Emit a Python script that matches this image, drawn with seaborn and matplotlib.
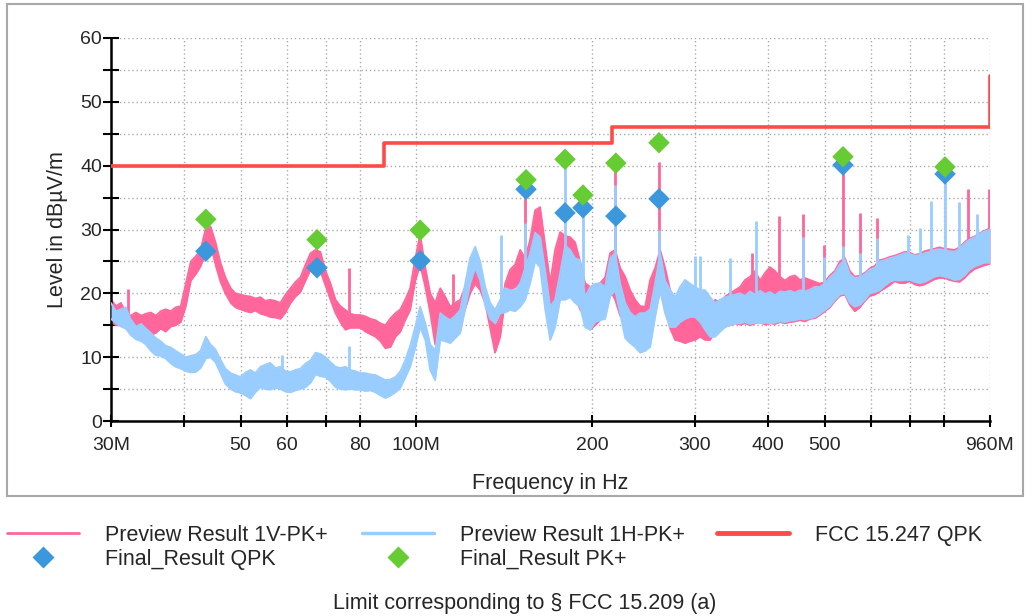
import numpy as np
import matplotlib
matplotlib.use("Agg")
import matplotlib.pyplot as plt
import seaborn as sns
from matplotlib.lines import Line2D
from matplotlib.patches import Rectangle
from matplotlib.ticker import FixedLocator, FixedFormatter, MultipleLocator, NullLocator

# ---------------- data (MHz / dBuV/m) ----------------
freq = [30.0, 30.6, 31.2, 31.8, 32.4, 33.1, 33.8, 34.4, 35.1, 35.8, 36.5, 37.2, 38.0, 38.7, 39.5, 40.3, 41.1,
        41.9, 42.7, 43.6, 44.4, 45.3, 46.2, 47.1, 48.1, 49.0, 50.0, 51.0, 52.0, 53.0, 54.1, 55.1, 56.2, 57.4,
        58.5, 59.7, 60.9, 62.1, 63.3, 64.6, 65.9, 67.2, 68.5, 69.9, 71.3, 72.7, 74.1, 75.6, 77.1, 78.6, 80.2,
        81.8, 83.4, 85.1, 86.8, 88.5, 90.3, 92.1, 93.9, 95.7, 97.6, 99.6, 101.5, 103.6, 105.6, 107.7, 109.9,
        112.0, 114.3, 116.6, 118.9, 121.2, 123.6, 126.1, 128.6, 131.2, 133.8, 136.4, 139.2, 141.9, 144.7,
        147.6, 150.6, 153.6, 156.6, 159.7, 162.9, 166.2, 169.5, 172.8, 176.3, 179.8, 183.4, 187.0, 190.7,
        194.5, 198.4, 202.4, 206.4, 210.5, 214.7, 219.0, 223.3, 227.8, 232.3, 236.9, 241.6, 246.5, 251.4,
        256.4, 261.5, 266.6, 272.0, 277.4, 282.9, 288.5, 294.3, 300.1, 306.1, 312.2, 318.4, 324.7, 331.2,
        337.8, 344.5, 351.3, 358.3, 365.4, 372.7, 380.1, 387.7, 395.4, 403.2, 411.2, 419.4, 427.7, 436.3,
        444.9, 453.8, 462.8, 472.0, 481.4, 490.9, 500.7, 510.6, 520.8, 531.1, 541.7, 552.4, 563.4, 574.6,
        586.0, 597.6, 609.5, 621.6, 633.9, 646.5, 659.3, 672.4, 685.8, 699.4, 713.2, 727.4, 741.8, 756.6,
        771.6, 786.9, 802.5, 818.5, 834.7, 851.2, 868.1, 885.3, 902.9, 920.8, 939.0, 960.0]

# Preview Result 1V-PK+ (lower / upper edge of the noisy trace)
v_lo = [15.5, 15.0, 15.0, 14.5, 14.2, 14.0, 14.5, 13.8, 13.5, 13.8,
        14.5, 14.0, 14.8, 15.0, 15.5, 18.0, 22.0, 23.0, 24.2, 26.5,
        27.8, 24.5, 21.8, 20.0, 18.5, 17.8, 17.5, 17.2, 17.0, 17.3,
        16.8, 16.6, 16.3, 16.2, 16.0, 17.0, 18.5, 19.5, 20.2, 22.0,
        23.7, 24.0, 23.5, 21.2, 19.0, 16.9, 15.5, 14.3, 14.6, 14.6,
        14.6, 14.0, 13.6, 13.2, 12.5, 11.4, 11.6, 13.2, 14.0, 15.8,
        17.4, 22.0, 24.5, 21.0, 17.0, 12.0, 15.8, 14.7, 14.7, 15.0,
        15.8, 17.5, 20.0, 21.5, 20.5, 18.5, 14.5, 10.7, 13.2, 19.0,
        20.5, 21.0, 21.6, 22.5, 23.2, 28.0, 29.4, 21.0, 14.7, 19.0,
        22.1, 21.5, 20.5, 19.5, 17.5, 16.3, 14.3, 15.0, 15.8, 16.5,
        20.5, 19.0, 16.5, 15.3, 13.5, 12.7, 12.7, 12.7, 14.0, 17.0,
        20.5, 17.5, 14.5, 12.7, 12.5, 12.2, 12.5, 12.7, 13.2, 12.7,
        12.7, 14.0, 14.5, 14.8, 15.0, 15.3, 15.1, 15.3, 15.0, 15.3,
        15.5, 15.1, 15.3, 15.2, 15.5, 15.3, 15.5, 15.6, 15.8, 15.6,
        16.0, 16.1, 16.6, 17.2, 17.8, 18.8, 19.6, 19.8, 18.2, 17.2,
        17.8, 18.8, 19.6, 19.8, 20.3, 20.8, 21.3, 21.9, 21.6, 21.6,
        21.9, 21.4, 21.2, 21.4, 21.8, 22.2, 22.4, 22.4, 22.1, 21.9,
        21.8, 22.4, 23.2, 23.8, 24.1, 24.4, 24.6]
v_hi = [19.0, 18.0, 18.5, 17.0, 16.5, 17.0, 16.5, 16.8, 17.0, 16.5,
        17.2, 17.5, 17.2, 17.8, 18.0, 21.5, 25.0, 25.8, 26.8, 30.2,
        30.5, 28.0, 24.8, 22.5, 20.8, 20.0, 19.8, 19.6, 19.5, 19.2,
        19.4, 18.8, 19.0, 18.8, 18.5, 19.8, 20.8, 21.8, 22.5, 24.5,
        26.3, 26.8, 26.5, 23.5, 21.5, 19.0, 18.0, 17.4, 16.8, 16.6,
        16.6, 16.4, 16.0, 15.8, 15.3, 15.0, 16.1, 16.9, 17.5, 19.0,
        20.8, 25.5, 29.2, 24.0, 20.0, 18.5, 20.8, 19.5, 17.9, 18.5,
        19.0, 21.0, 22.6, 23.5, 22.5, 20.5, 17.4, 14.7, 16.3, 21.5,
        23.7, 24.5, 26.8, 25.5, 28.4, 33.0, 33.5, 27.5, 21.6, 26.8,
        29.6, 29.0, 28.8, 28.0, 25.0, 21.6, 21.0, 21.2, 21.6, 22.5,
        26.3, 26.8, 24.0, 22.6, 20.5, 19.0, 18.0, 17.9, 22.1, 24.0,
        26.8, 24.0, 20.5, 19.0, 18.5, 17.9, 17.5, 17.0, 16.0, 14.7,
        15.0, 19.0, 18.5, 19.5, 20.0, 20.5, 21.0, 22.1, 22.6, 23.5,
        22.0, 23.2, 24.1, 23.5, 22.6, 22.0, 22.6, 22.8, 22.1, 22.4,
        22.1, 21.8, 21.5, 21.8, 22.8, 23.5, 25.0, 25.5, 23.5, 22.6,
        22.8, 23.2, 23.9, 24.3, 25.2, 25.4, 25.7, 25.9, 26.2, 26.5,
        26.4, 26.0, 26.2, 26.6, 26.8, 27.0, 27.2, 27.0, 26.9, 26.8,
        27.2, 28.0, 28.6, 28.9, 29.4, 29.8, 30.2]

# Preview Result 1H-PK+
h_lo = [16.0, 15.3, 14.8, 14.5, 13.5, 12.8, 12.5, 12.0, 11.0, 10.3,
        10.2, 9.8, 9.0, 8.5, 8.2, 7.8, 7.6, 7.7, 8.3, 9.8,
        10.0, 9.2, 7.5, 5.8, 5.0, 4.6, 4.4, 4.0, 3.5, 4.5,
        5.3, 5.0, 4.9, 5.2, 5.0, 4.6, 4.5, 4.8, 5.0, 5.3,
        6.0, 7.3, 7.0, 6.9, 6.2, 5.3, 5.0, 4.9, 5.0, 4.9,
        4.9, 4.7, 4.8, 4.5, 4.0, 3.6, 4.0, 4.5, 5.2, 6.8,
        8.5, 11.5, 14.7, 12.7, 8.0, 6.4, 12.7, 12.5, 12.2, 13.0,
        13.8, 17.5, 21.5, 24.0, 22.0, 18.0, 16.0, 15.3, 16.9, 17.0,
        17.4, 17.2, 17.9, 19.0, 21.6, 25.0, 24.1, 17.5, 12.7, 14.7,
        19.0, 19.0, 19.4, 18.5, 17.9, 14.7, 14.3, 15.5, 15.8, 16.0,
        19.5, 20.5, 16.9, 13.0, 12.2, 11.6, 10.7, 11.0, 11.6, 16.3,
        20.5, 16.9, 14.7, 14.7, 15.5, 16.0, 16.3, 16.3, 15.5, 14.3,
        13.2, 13.2, 14.0, 14.7, 15.0, 15.3, 15.3, 15.5, 15.2, 15.4,
        15.3, 15.4, 15.3, 15.4, 15.6, 15.5, 15.7, 15.8, 16.0, 15.9,
        16.1, 16.3, 16.8, 17.4, 18.0, 19.0, 19.8, 20.0, 18.5, 17.9,
        18.2, 19.0, 20.0, 20.2, 20.5, 21.2, 21.8, 22.1, 22.0, 22.1,
        22.1, 21.8, 21.6, 21.8, 22.2, 22.6, 22.8, 22.6, 22.4, 22.1,
        22.2, 22.8, 23.7, 24.2, 24.5, 24.8, 24.8]
h_hi = [18.5, 17.2, 17.5, 17.8, 16.0, 14.8, 15.2, 14.5, 13.8, 13.0,
        12.5, 11.8, 11.5, 11.0, 10.5, 10.0, 10.2, 10.4, 11.0, 13.2,
        12.0, 11.2, 9.6, 8.2, 7.5, 7.2, 6.9, 7.6, 8.0, 7.5,
        8.5, 8.8, 9.1, 8.3, 8.5, 7.8, 7.7, 8.0, 8.2, 9.0,
        9.5, 10.7, 10.5, 10.0, 9.2, 8.5, 8.3, 8.5, 8.0, 7.8,
        7.5, 7.5, 7.3, 7.2, 6.8, 6.4, 6.5, 6.9, 7.8, 9.5,
        11.8, 14.8, 17.9, 15.3, 12.0, 11.0, 16.9, 16.3, 15.8, 16.5,
        17.4, 21.5, 25.5, 27.3, 25.0, 21.0, 18.5, 17.4, 19.0, 20.8,
        20.5, 20.5, 21.6, 24.0, 26.3, 29.5, 28.8, 23.5, 17.9, 19.0,
        23.2, 27.5, 26.8, 25.5, 25.2, 19.4, 21.0, 21.5, 21.6, 21.0,
        25.5, 26.3, 21.6, 18.5, 17.0, 16.3, 16.9, 16.9, 17.5, 21.6,
        26.3, 22.0, 20.5, 19.4, 21.0, 22.1, 21.5, 21.0, 20.5, 20.5,
        19.4, 18.5, 19.0, 19.4, 19.6, 19.8, 20.0, 19.6, 20.3, 19.8,
        20.4, 19.9, 20.2, 19.7, 20.3, 20.2, 20.4, 20.1, 20.5, 20.3,
        20.6, 21.0, 21.0, 21.5, 22.5, 23.2, 24.5, 25.2, 23.0, 22.4,
        22.5, 23.0, 23.7, 24.0, 25.0, 25.2, 25.5, 25.7, 26.0, 26.3,
        26.2, 25.9, 26.0, 26.3, 26.5, 26.8, 26.9, 26.8, 26.6, 26.5,
        27.0, 27.8, 28.4, 28.8, 29.3, 29.7, 30.0]

# narrow spikes (frequency, peak level)
v_spike_f = [32.1, 76.7, 115.6, 153.6, 219.0, 260.3, 375.6, 417.7, 459.3, 498.0, 537.7, 574.6, 614.4, 881.8, 958.0]
v_spike_top = [20.7, 24.0, 23.0, 36.5, 40.0, 40.6, 26.3, 32.1, 32.4, 27.5, 40.8, 32.6, 31.8, 36.3, 36.4]
h_spike_f = [58.8, 76.7, 139.7, 153.6, 179.7, 192.9, 219.0, 260.3, 300.1, 306.1, 344.5, 381.7, 459.3,
             498.0, 537.7, 574.6, 614.4, 694.0, 727.4, 761.6, 804.0, 848.6, 913.2]
h_spike_top = [10.3, 11.8, 29.2, 31.0, 41.0, 35.2, 37.0, 30.0, 25.8, 25.8, 25.6, 31.4, 28.8,
               25.7, 27.4, 26.3, 28.7, 29.2, 30.2, 34.4, 39.0, 34.3, 32.5]

# FCC limit
limit_f = [30, 88, 88, 216, 216, 960, 960]
limit_v = [40.0, 40.0, 43.5, 43.5, 46.0, 46.0, 54.0]

# final results
final_f = [43.6, 67.6, 101.5, 154.1, 179.7, 192.9, 219.6, 260.3, 537.7, 804.0]
final_qpk = [26.6, 24.0, 25.1, 36.3, 32.6, 33.4, 32.1, 34.8, 40.1, 38.7]
final_pk = [31.6, 28.4, 29.9, 37.8, 41.0, 35.4, 40.4, 43.6, 41.4, 39.8]

xtick_vals = [30, 40, 50, 60, 70, 80, 100, 200, 300, 400, 500, 600, 700, 800, 960]
xtick_labels = ["30M", "", "50", "60", "", "80", "100M", "200", "300", "400", "500", "", "", "", "960M"]

PINK = "#FF6699"
LBLUE = "#99CCFF"
RED = "#FF4A4A"
BLUE = "#3C98DC"
GREEN = "#66CC33"

# ---------------- plot ----------------
sns.set_style("white")
plt.rcParams['font.family'] = ['Liberation Sans', 'DejaVu Sans']

fig = plt.figure(figsize=(10.32, 6.16), dpi=100)
ax = fig.add_axes([111 / 1032, 1 - 421 / 616, 879 / 1032, 383 / 616])
ax.set_xscale('log')

lf = np.log10(freq)
# V trace
ax.fill_between(freq, v_lo, v_hi, color=PINK, lw=0, zorder=2)
sns.lineplot(x=freq, y=v_hi, color=PINK, lw=1.3, estimator=None, sort=False, ax=ax, zorder=2)
sns.lineplot(x=freq, y=v_lo, color=PINK, lw=1.3, estimator=None, sort=False, ax=ax, zorder=2)
vb = np.interp(np.log10(v_spike_f), lf, v_hi) - 0.6
ax.vlines(v_spike_f, vb, v_spike_top, color=PINK, lw=2.0, zorder=2)
# H trace
ax.fill_between(freq, h_lo, h_hi, color=LBLUE, lw=0, zorder=3)
sns.lineplot(x=freq, y=h_hi, color=LBLUE, lw=1.3, estimator=None, sort=False, ax=ax, zorder=3)
sns.lineplot(x=freq, y=h_lo, color=LBLUE, lw=1.3, estimator=None, sort=False, ax=ax, zorder=3)
hb = np.interp(np.log10(h_spike_f), lf, h_hi) - 0.6
ax.vlines(h_spike_f, hb, h_spike_top, color=LBLUE, lw=2.0, zorder=3)

# limit
sns.lineplot(x=limit_f, y=limit_v, color=RED, lw=2.6, estimator=None, sort=False, ax=ax, zorder=4)

# finals
sns.scatterplot(x=final_f, y=final_qpk, marker='D', s=120, color=BLUE, edgecolor='none', ax=ax, zorder=5)
sns.scatterplot(x=final_f, y=final_pk, marker='D', s=120, color=GREEN, edgecolor='none', ax=ax, zorder=6)

ax.set_xlim(30, 960)
ax.set_ylim(0, 60)

ax.xaxis.set_major_locator(FixedLocator(xtick_vals))
ax.xaxis.set_major_formatter(FixedFormatter(xtick_labels))
ax.xaxis.set_minor_locator(NullLocator())
ax.yaxis.set_major_locator(MultipleLocator(10))
ax.yaxis.set_minor_locator(MultipleLocator(5))

grid_kw = dict(color='#AAAAAA', lw=1.0, ls=(0, (1, 2)))
ax.grid(True, which='major', axis='x', **grid_kw)
ax.grid(True, which='both', axis='y', **grid_kw)
ax.set_axisbelow(True)

for s in ['top', 'right']:
    ax.spines[s].set_visible(False)
for s in ['left', 'bottom']:
    ax.spines[s].set_color('black')
    ax.spines[s].set_linewidth(1.8)

ax.tick_params(axis='y', which='both', left=True, direction='inout', length=11, width=1.5,
               pad=1, labelsize=14, color='black')
ax.tick_params(axis='x', which='major', bottom=True, direction='inout', length=9, width=1.5,
               pad=7, labelsize=14, color='black')

ax.set_xlabel('Frequency in Hz', fontsize=15.5, labelpad=14)
ax.set_ylabel('Level in dBµV/m', fontsize=15.5, labelpad=9)

# outer frame
fig.patches.append(Rectangle((7 / 1032, 1 - 496 / 616), (1023 - 7) / 1032, (496 - 4) / 616,
                             transform=fig.transFigure, fill=False, edgecolor='#A8A8A8', lw=1.5))

# legends (three columns)
h_v = Line2D([], [], color=PINK, lw=2)
h_h = Line2D([], [], color=LBLUE, lw=2.5)
h_l = Line2D([], [], color=RED, lw=3.5)
h_q = Line2D([], [], ls='none', marker='D', ms=11, color=BLUE, mec='none')
h_p = Line2D([], [], ls='none', marker='D', ms=11, color=GREEN, mec='none')
leg_kw = dict(loc='upper left', frameon=False, fontsize=15.5, handlelength=3.35, handletextpad=1.2,
              borderpad=0, borderaxespad=0, labelspacing=0.12)
ytop = 1 - 525 / 616
fig.legend([h_v, h_q], ['Preview Result 1V-PK+', 'Final_Result QPK'], bbox_to_anchor=(7 / 1032, ytop), **leg_kw)
fig.legend([h_h, h_p], ['Preview Result 1H-PK+', 'Final_Result PK+'], bbox_to_anchor=(362 / 1032, ytop), **leg_kw)
fig.legend([h_l], ['FCC 15.247 QPK'], bbox_to_anchor=(717 / 1032, ytop), **leg_kw)

fig.text(525 / 1032, 1 - 603 / 616, 'Limit corresponding to § FCC 15.209 (a)', ha='center', va='center',
         fontsize=15.5)

fig.savefig('out.png', dpi=100)
